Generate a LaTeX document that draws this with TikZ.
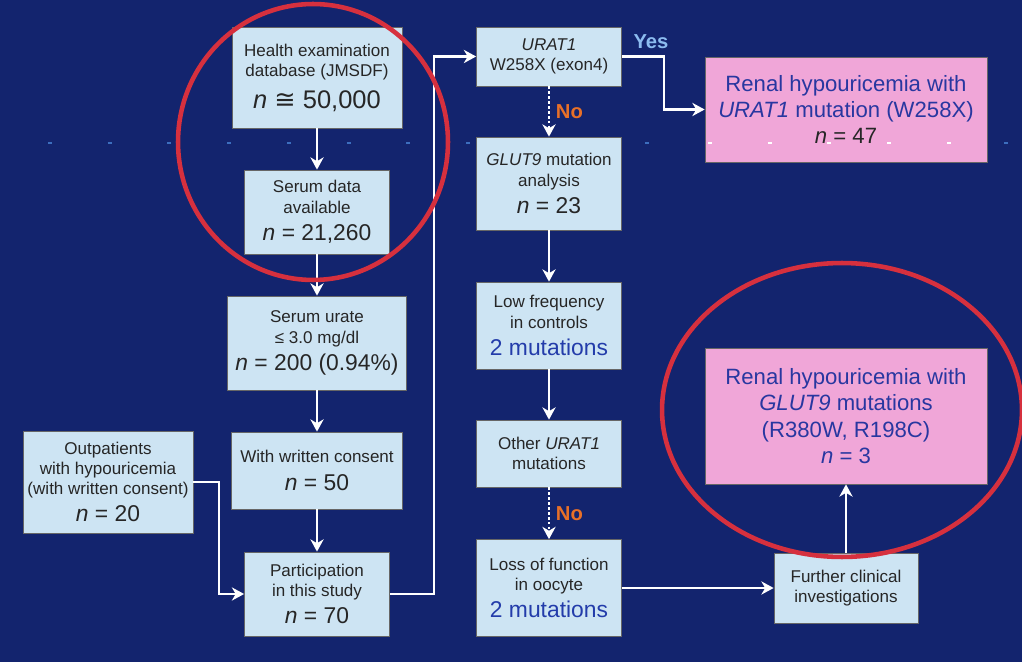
\documentclass[tikz,border=0pt]{standalone}
\usepackage{fontspec}
\setmainfont{Liberation Sans}
\newfontfamily\symfont{DejaVu Sans}
\usetikzlibrary{arrows.meta}
\definecolor{bgnavy}{RGB}{19,36,110}
\definecolor{boxblue}{RGB}{205,228,243}
\definecolor{pinkc}{RGB}{240,166,216}
\definecolor{pinktext}{RGB}{40,55,160}
\definecolor{mutblue}{RGB}{35,60,170}
\definecolor{yescol}{RGB}{140,188,240}
\definecolor{nocol}{RGB}{232,112,40}
\definecolor{ringred}{RGB}{214,48,62}
\definecolor{dotblue}{RGB}{60,110,190}
\newcommand{\smallf}{\fontsize{9.7}{11.5}\selectfont}
\newcommand{\bigf}{\fontsize{13}{15}\selectfont}
\newcommand{\pinkf}{\fontsize{12.6}{15}\selectfont}
\newcommand{\nn}{\textit{n}}
\tikzset{wh/.style 2 args={minimum width=#1*0.02cm,minimum height=#2*0.02cm}}
\begin{document}
\begin{tikzpicture}[x=0.02cm,y=-0.02cm,>={Stealth[length=7pt,width=7.5pt,inset=2.2pt]},
            box/.style={draw=black!60,line width=0.4pt,fill=boxblue,text=black!85,align=center,inner sep=2pt,font=\smallf},
            res/.style={box,fill=pinkc,text=pinktext,font=\pinkf},
            arr/.style={->,draw=white,line width=1.2pt},
            darr/.style={arr,dash pattern=on 1.5pt off 1.3pt},
            lab/.style={font=\fontsize{11.5}{13}\selectfont\bfseries},
            ring/.style={draw=ringred,line width=2.6pt}]
            \useasboundingbox (0,0) rectangle (1022,662);
            \fill[bgnavy] (0,0) rectangle (1022,662);
            \draw[dotblue,line width=1.1pt,dash pattern=on 2.2pt off 31.8pt] (48,143) -- (1012,143);
            \node[box,wh={170}{101}] (health) at (317,77.5) {Health examination\\database (JMSDF)\\[5pt]{\fontsize{14.5}{16}\selectfont\nn\ {\symfont ≅} 50,000}};
            \node[box,wh={145}{84}] (serum) at (317,212) {Serum data\\available\\[4pt]{\bigf\nn\ = 21,260}};
            \node[box,wh={179}{94}] (urate) at (317,343) {Serum urate\\≤ 3.0 mg/dl\\[4pt]{\bigf\nn\ = 200 (0.94\%)}};
            \node[box,wh={171}{77}] (consent) at (317,470.5) {With written consent\\[4pt]{\bigf\nn\ = 50}};
            \node[box,wh={145}{84}] (particip) at (317,594) {Participation\\in this study\\[4pt]{\bigf\nn\ = 70}};
            \node[box,wh={170}{102}] (outpat) at (108,482) {Outpatients\\with hypouricemia\\(with written consent)\\[4pt]{\bigf\nn\ = 20}};
            \node[box,wh={145}{59}] (urat1) at (549,56.5) {\textit{URAT1}\\W258X (exon4)};
            \node[box,wh={145}{93}] (glut9) at (549,183.5) {\textit{GLUT9} mutation\\analysis\\[4pt]{\bigf\nn\ = 23}};
            \node[box,wh={145}{87}] (lowfreq) at (549,325.5) {Low frequency\\in controls\\[4pt]{\bigf\color{mutblue}2 mutations}};
            \node[box,wh={145}{67}] (other) at (549,453.5) {Other \textit{URAT1}\\mutations};
            \node[box,wh={145}{97}] (loss) at (549,588) {Loss of function\\in oocyte\\[4pt]{\bigf\color{mutblue}2 mutations}};
            \node[box,wh={144}{70}] (further) at (846,588) {Further clinical\\investigations};
            \node[res,wh={282}{105}] (urres) at (846,109.5) {Renal hypouricemia with\\\textit{URAT1} mutation (W258X)\\{\color{black!85}\nn\ = 47}};
            \node[res,wh={282}{136}] (glres) at (846,416) {Renal hypouricemia with\\\textit{GLUT9} mutations\\(R380W, R198C)\\\nn\ = 3};
            \draw[white,line width=1.1pt,dash pattern=on 2.2pt off 31.8pt] (708,143) -- (960,143);
            \node[lab,text=yescol] (yes) at (651,42) {Yes};
            \draw[arr] (health) -- (serum);
            \draw[arr] (serum) -- (urate);
            \draw[arr] (urate) -- (consent);
            \draw[arr] (consent) -- (particip);
            \draw[arr] (outpat.east) -- ++(26,0) |- (particip.west);
            \draw[arr] (particip.east) -- ++(44,0) |- (urat1.west);
            \draw[arr] (urat1.east) -- ++(42,0) |- (urres.west);
            \draw[darr] (urat1) -- node[lab,text=nocol,right] (no1) {No} (glut9);
            \draw[arr] (glut9) -- (lowfreq);
            \draw[arr] (lowfreq) -- (other);
            \draw[darr] (other) -- node[lab,text=nocol,right] (no2) {No} (loss);
            \draw[arr] (loss) -- (further);
            \draw[arr] (further) -- (glres);
            \draw[ring] (313,142) ellipse [x radius=2.7cm,y radius=2.76cm];
            \draw[ring] (842,410) ellipse [x radius=3.6cm,y radius=2.94cm];
        \end{tikzpicture}
\end{document}
